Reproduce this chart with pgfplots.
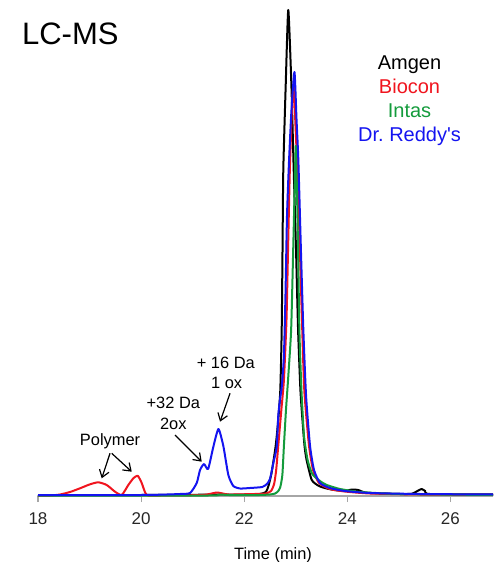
\documentclass[border=0pt]{standalone}
\usepackage{fontspec}
\setmainfont{Liberation Sans}
\usepackage{pgfplots}
\pgfplotsset{compat=1.18}
\usetikzlibrary{arrows.meta}
\definecolor{cred}{RGB}{240,20,30}
\definecolor{cgreen}{RGB}{20,155,60}
\definecolor{cblue}{RGB}{20,20,240}
\begin{document}
\begin{tikzpicture}
\path[use as bounding box] (-19pt,-33pt) rectangle (227.5pt,248pt);
\begin{axis}[
  scale only axis, width=227.5pt, height=248pt,
  anchor=south west, at={(0,0)},
  xmin=18, xmax=26.826, ymin=0, ymax=496,
  axis x line=bottom, axis y line=none,
  x axis line style={-, draw=gray!70, line width=0.6pt},
  xtick={18,20,22,24,26},
  tick style={draw=gray!70, line width=0.6pt},
  tick align=outside, major tick length=3pt,
  xticklabel style={font=\fontsize{8.5}{10}\selectfont, text=black!85, yshift=-1.8pt},
  /pgf/number format/assume math mode=true,
  clip=false,
  every axis plot/.append style={line width=1pt, smooth, tension=0.35, line join=round},
]
% Amgen
\addplot[black] coordinates {
(18,1) (20,1) (21,1.2) (21.5,1.5) (22,1.5) (22.3,2) (22.42,4) (22.47,10) (22.53,23)
(22.61,50) (22.66,76) (22.70,106) (22.727,166) (22.743,246) (22.758,326) (22.805,411)
(22.855,486) (22.915,411) (22.96,326) (23.005,246) (23.045,166) (23.09,106) (23.13,76)
(23.17,50) (23.21,36) (23.31,16) (23.45,10) (23.6,7.5) (23.75,6) (23.95,5) (24.09,6.5)
(24.21,6) (24.34,3.5) (24.63,2.5) (25.02,2) (25.25,2.2) (25.36,5) (25.44,7) (25.51,5)
(25.6,2) (26.83,1.5)};
% Biocon
\addplot[cred] coordinates {
(18,0.5) (18.233,0.5) (18.427,1.5) (18.621,4) (18.815,7.7) (19.009,11.7) (19.17,13.7)
(19.333,11) (19.494,4.3) (19.624,1) (19.752,11) (19.849,17.7) (19.934,20.3) (20.012,13)
(20.109,1) (20.37,0.5) (21.2,1) (21.47,3.5) (21.7,1.5) (22.2,2) (22.42,2.5) (22.52,5)
(22.58,12) (22.62,26) (22.66,50) (22.72,86) (22.77,116) (22.82,176) (22.85,246)
(22.885,326) (22.925,386) (22.957,411) (22.99,376) (23.03,326) (23.08,246) (23.12,176)
(23.165,106) (23.255,51) (23.335,26) (23.45,13) (23.66,7) (23.95,4.5) (24.44,2.5)
(25.41,1.5) (26.83,1)};
% Intas
\addplot[cgreen] coordinates {
(18,0.5) (21.3,0.5) (21.5,1.5) (21.8,0.8) (22.3,1) (22.5,1.5) (22.6,2.5) (22.66,5)
(22.7,9) (22.74,21) (22.77,50) (22.81,86) (22.85,116) (22.91,166) (22.95,246)
(22.975,300) (23.0,350) (23.025,300) (23.045,246) (23.07,166) (23.11,106) (23.16,60)
(23.23,36) (23.32,22) (23.47,15) (23.6,11) (23.86,7) (24.25,4) (25.02,2) (26.83,1)};
% Dr. Reddy's
\addplot[cblue] coordinates {
(18,1) (20,1) (20.5,1.5) (20.755,2) (20.949,3) (21.079,13) (21.143,26) (21.22,32)
(21.30,27) (21.40,49) (21.50,67) (21.595,50) (21.692,21) (21.789,10) (21.92,7.5)
(22.11,8) (22.35,9) (22.44,12) (22.50,17) (22.565,33) (22.63,49) (22.66,80) (22.69,95)
(22.73,110) (22.77,140) (22.80,200) (22.83,280) (22.87,336) (22.917,386) (22.975,424)
(23.015,376) (23.05,336) (23.10,246) (23.147,166) (23.2,100) (23.277,50) (23.354,26)
(23.47,13) (23.66,8) (23.95,5) (24.44,3) (25.41,2) (26.83,1.5)};
% texts
\node[anchor=base west, inner sep=0, font=\fontsize{15.5}{18}\selectfont] at (axis cs:17.684,451) {LC-MS};
\begin{scope}[every node/.style={anchor=base, inner sep=0, font=\fontsize{10}{12}\selectfont}]
\node[text=black] at (axis cs:25.207,426.5) {Amgen};
\node[text=cred] at (axis cs:25.207,402) {Biocon};
\node[text=cgreen] at (axis cs:25.207,378) {Intas};
\node[text=cblue] at (axis cs:25.207,354) {Dr.\ Reddy\textquotesingle s};
\end{scope}
\begin{scope}[every node/.style={anchor=base, inner sep=0, font=\fontsize{8.2}{10}\selectfont}]
\node at (axis cs:19.397,51) {Polymer};
\node at (axis cs:20.625,87.7) {+32 Da};
\node at (axis cs:20.625,66.7) {2ox};
\node at (axis cs:21.643,127.7) {+ 16 Da};
\node at (axis cs:21.66,107.7) {1 ox};
\node at (axis cs:22.559,-63) {Time (min)};
\end{scope}
\begin{scope}[line width=0.6pt, -{Straight Barb[length=3.5pt,width=5pt]}]
\draw (axis cs:19.397,42.7) -- (axis cs:19.236,17.7);
\draw (axis cs:19.43,42.7) -- (axis cs:19.818,24.3);
\draw (axis cs:20.658,61) -- (axis cs:21.176,34.3);
\draw (axis cs:21.725,102.7) -- (axis cs:21.531,74.3);
\end{scope}
\end{axis}
\end{tikzpicture}
\end{document}
